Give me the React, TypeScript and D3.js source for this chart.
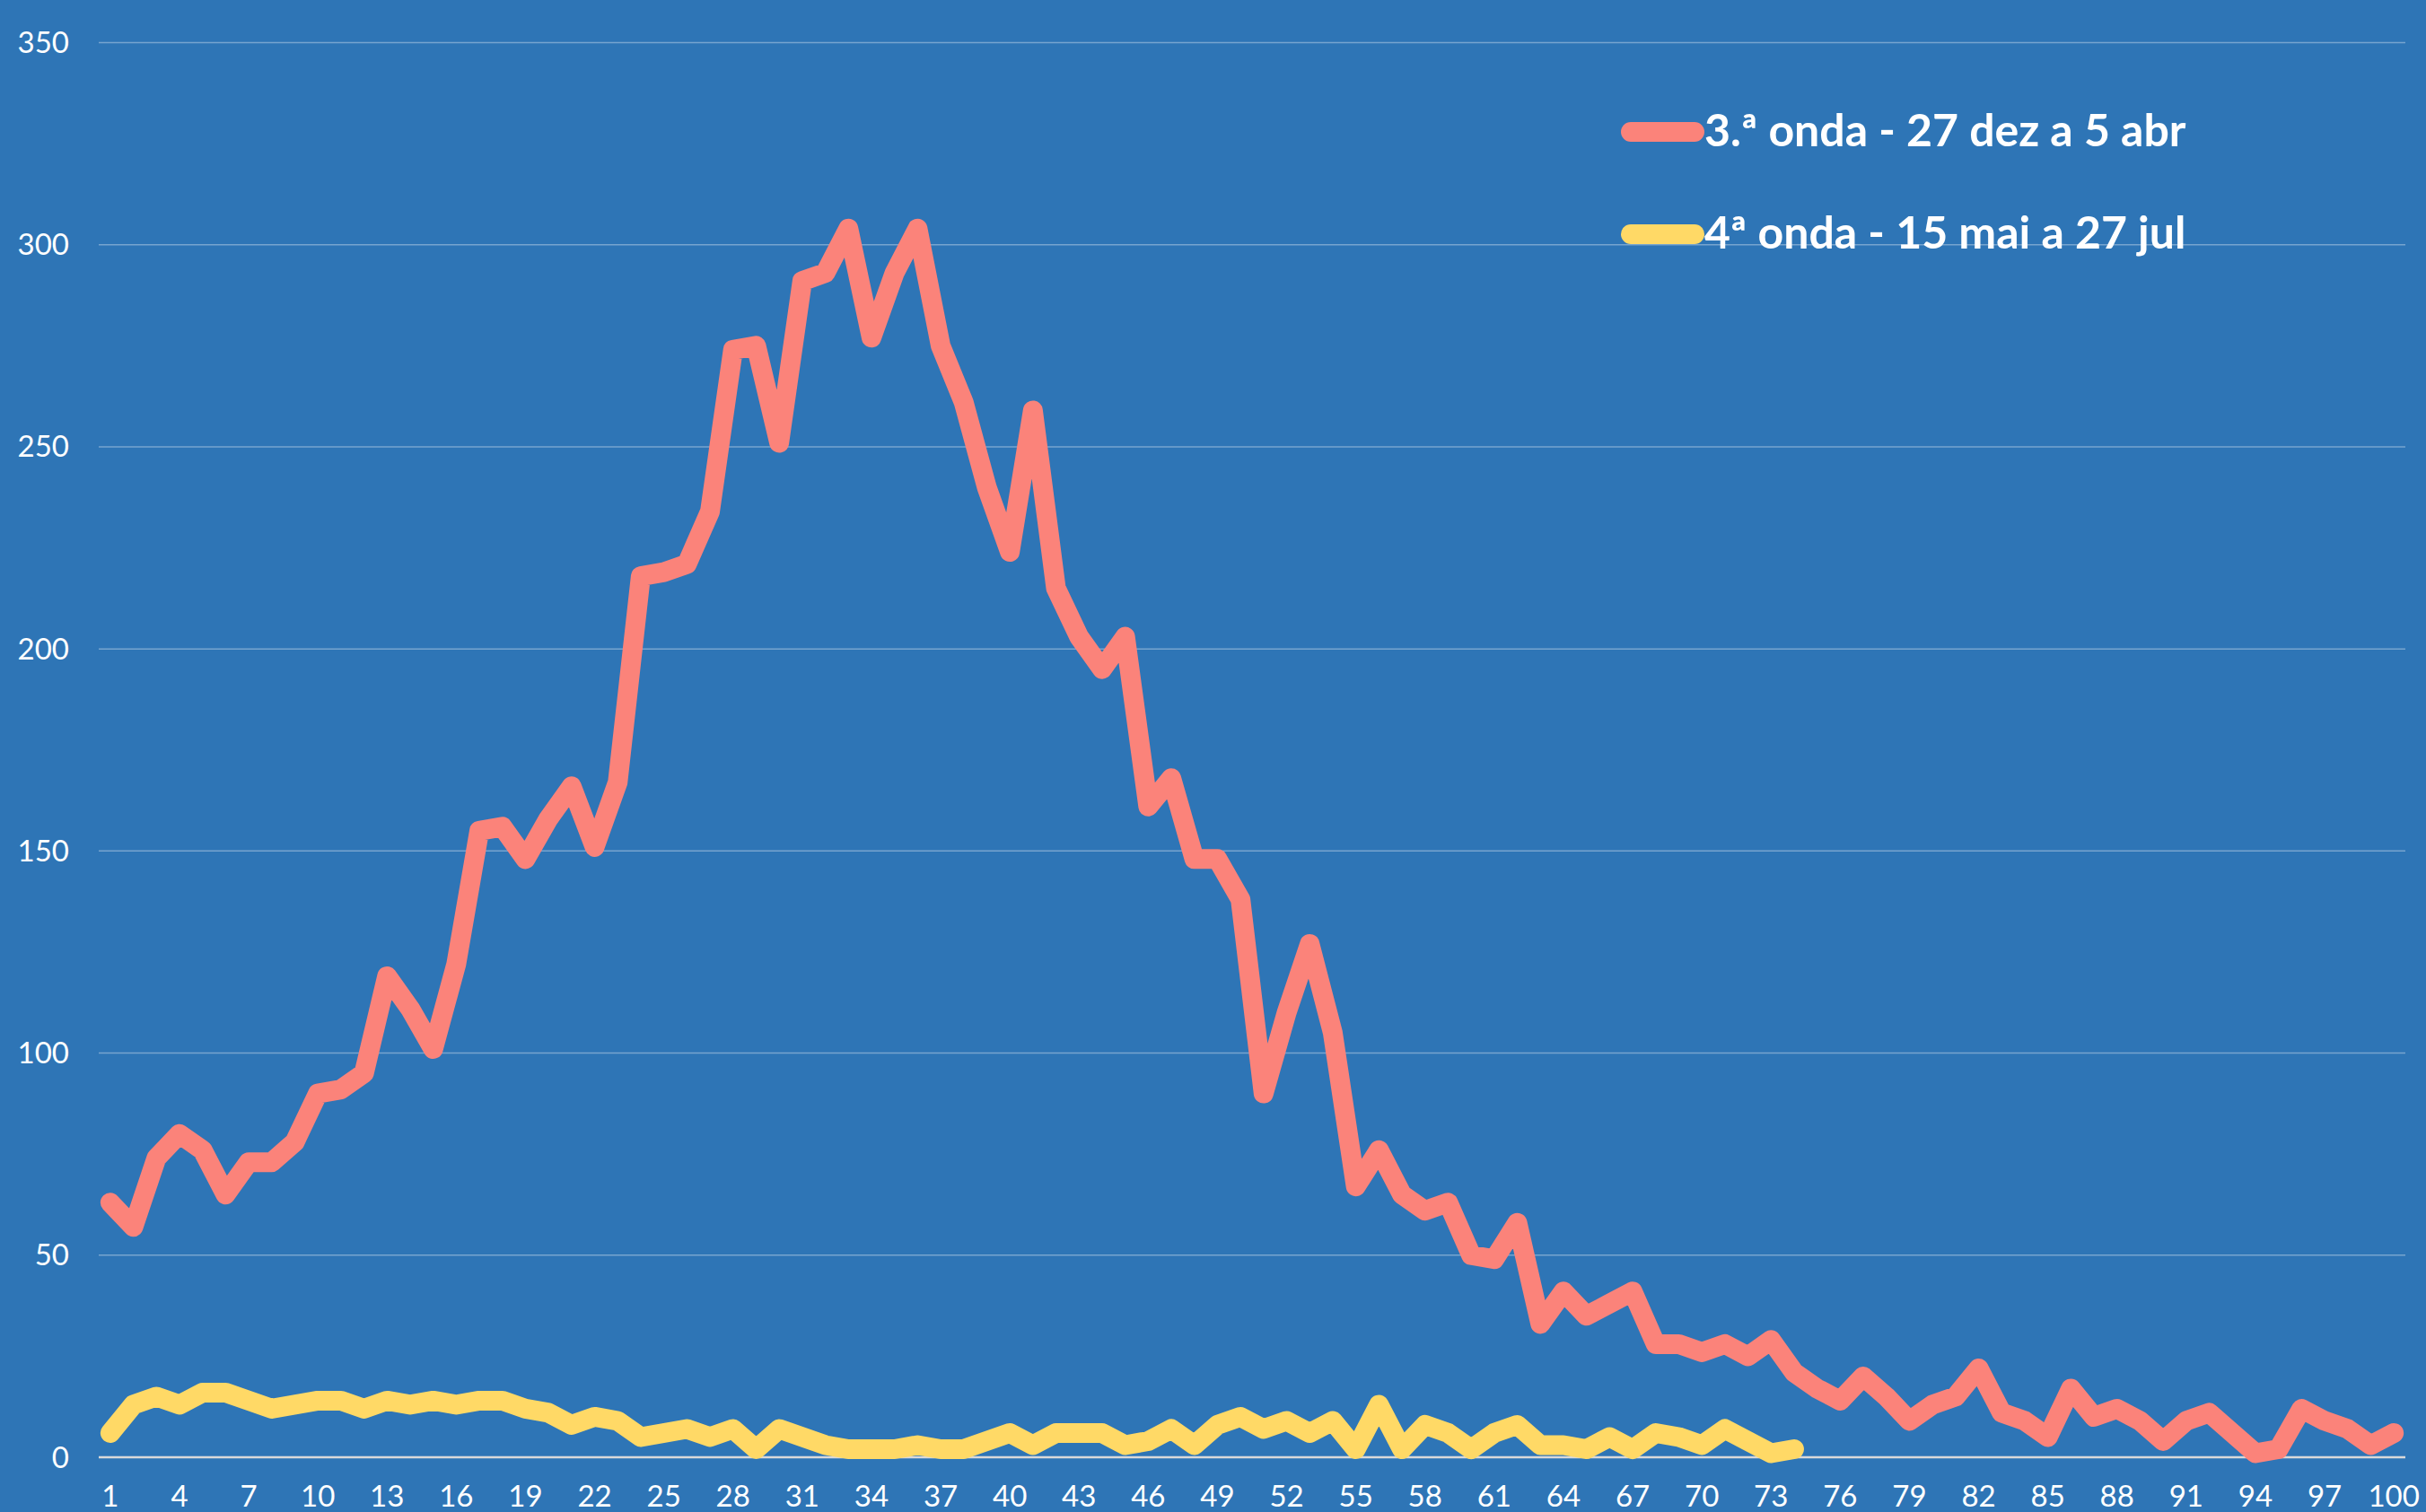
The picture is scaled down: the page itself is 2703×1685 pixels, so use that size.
import React from "react";
import * as d3 from "d3";

// dias desde o início de cada vaga
const categories = Array.from({ length: 100 }, (_, i) => i + 1);

const onda3 = [
  63, 57, 74, 80, 76, 65, 73, 73, 78, 90,
  91, 95, 119, 111, 101, 122, 155, 156, 148, 158,
  166, 151, 167, 218, 219, 221, 234, 274, 275, 251,
  291, 293, 304, 277, 293, 304, 275, 261, 240, 224,
  259, 215, 203, 195, 203, 161, 168, 148, 148, 138,
  90, 110, 127, 105, 67, 76, 65, 61, 63, 50,
  49, 58, 33, 41, 35, 38, 41, 28, 28, 26,
  28, 25, 29, 21, 17, 14, 20, 15, 9, 13,
  15, 22, 11, 9, 5, 17, 10, 12, 9, 4,
  9, 11, 6, 1, 2, 12, 9, 7, 3, 6,
];

const onda4 = [
  6, 13, 15, 13, 16, 16, 14, 12, 13, 14,
  14, 12, 14, 13, 14, 13, 14, 14, 12, 11,
  8, 10, 9, 5, 6, 7, 5, 7, 2, 7,
  5, 3, 2, 2, 2, 3, 2, 2, 4, 6,
  3, 6, 6, 6, 3, 4, 7, 3, 8, 10,
  7, 9, 6, 9, 2, 13, 2, 8, 6, 2,
  6, 8, 3, 3, 2, 5, 2, 6, 5, 3,
  7, 4, 1, 2,
];

const yTicks = [0, 50, 100, 150, 200, 250, 300, 350];

const seriesNames = ["3.ª onda - 27 dez a 5 abr", "4ª onda - 15 mai a 27 jul"];
const seriesColors = ["#FB837A", "#FFD966"];

const WIDTH = 2703;
const HEIGHT = 1685;
const margin = { top: 47.5, right: 23, bottom: 61, left: 110 };

export default function App() {
  const x = d3
    .scalePoint<number>()
    .domain(categories)
    .range([margin.left, WIDTH - margin.right])
    .padding(0.5);

  const y = d3
    .scaleLinear()
    .domain([0, 350])
    .range([HEIGHT - margin.bottom, margin.top]);

  const line = d3
    .line<number>()
    .x((_, i) => x(categories[i]) as number)
    .y((d) => y(d));

  const series = [onda3, onda4];
  const font = "Lato, 'Open Sans', sans-serif";

  return (
    <svg
      width={WIDTH}
      height={HEIGHT}
      style={{ position: "absolute", left: 0, top: 0, display: "block" }}
    >
      <rect width={WIDTH} height={HEIGHT} fill="#2E75B6" />

      {/* grelha */}
      {yTicks.map((t) => (
        <g key={t}>
          <line
            x1={margin.left}
            x2={WIDTH - margin.right}
            y1={y(t)}
            y2={y(t)}
            stroke={t === 0 ? "#D9D9D9" : "rgba(255,255,255,0.35)"}
            strokeWidth={t === 0 ? 2.5 : 1.5}
          />
          <text
            x={77}
            y={y(t) + 11.5}
            textAnchor="end"
            fill="#fff"
            fontFamily={font}
            fontSize={33}
          >
            {t}
          </text>
        </g>
      ))}

      {/* eixo x, de 3 em 3 */}
      {categories
        .filter((c) => (c - 1) % 3 === 0)
        .map((c) => (
          <text
            key={c}
            x={x(c)}
            y={1679}
            textAnchor="middle"
            fill="#fff"
            fontFamily={font}
            fontSize={33}
          >
            {c}
          </text>
        ))}

      {series.map((s, i) => (
        <path
          key={i}
          d={line(s) ?? ""}
          fill="none"
          stroke={seriesColors[i]}
          strokeWidth={22}
          strokeLinejoin="round"
          strokeLinecap="round"
        />
      ))}

      {/* legenda */}
      {seriesNames.map((name, i) => {
        const ly = 147 + i * 114;
        return (
          <g key={name}>
            <line
              x1={1817}
              x2={1888}
              y1={ly}
              y2={ly}
              stroke={seriesColors[i]}
              strokeWidth={22}
              strokeLinecap="round"
            />
            <text
              x={1899}
              y={ly + 16}
              fill="#fff"
              fontFamily={font}
              fontWeight="bold"
              fontSize={50}
            >
              {name}
            </text>
          </g>
        );
      })}
    </svg>
  );
}
